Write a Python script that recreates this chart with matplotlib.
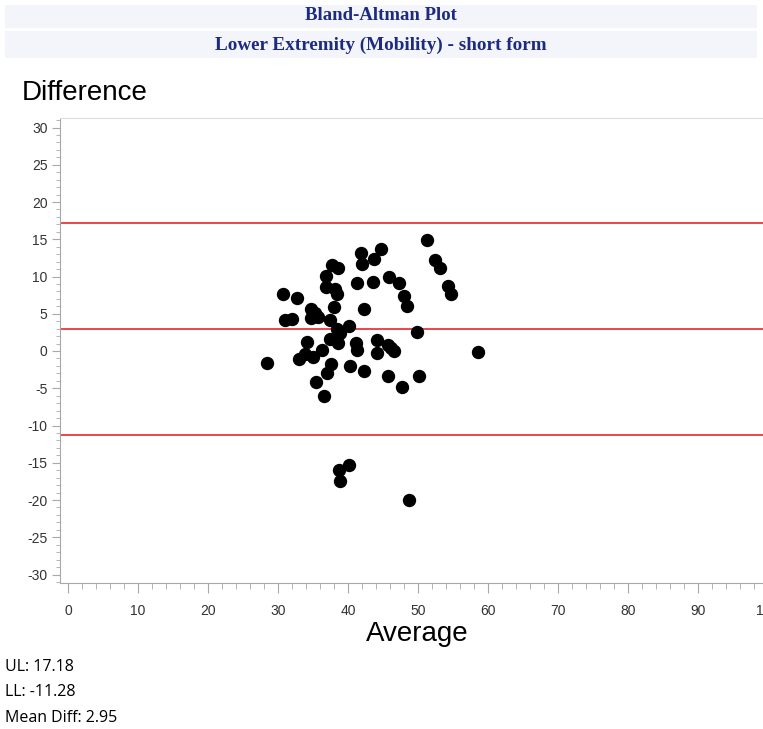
import matplotlib
matplotlib.use("Agg")
import matplotlib.pyplot as plt
from matplotlib.patches import Rectangle
from matplotlib.ticker import MultipleLocator

plt.rcParams["axes.unicode_minus"] = False

# averages and differences
avg = [28.4, 30.7, 31.0, 32.0, 32.7, 33.0, 33.9, 34.1, 34.7, 35.3,
       34.7, 35.7, 35.0, 35.4, 36.3, 36.6, 36.9, 36.9, 37.0, 37.6,
       37.4, 37.4, 37.7, 38.1, 38.0, 38.6, 38.4, 38.4, 38.6, 38.9,
       38.7, 38.9, 40.1, 40.1, 40.3, 41.3, 41.1, 41.3, 41.9, 42.0,
       42.3, 42.3, 43.7, 43.6, 44.1, 44.1, 44.7, 45.7, 45.7, 45.9,
       46.1, 46.6, 47.3, 47.7, 48.0, 48.4, 48.7, 49.9, 50.1, 51.3,
       52.4, 53.1, 54.3, 54.7, 58.6]
diff = [-1.6, 7.7, 4.2, 4.3, 7.1, -1.1, -0.4, 1.2, 5.6, 5.1,
        4.4, 4.6, -0.8, -4.2, 0.1, -6.0, 8.6, 10.1, -3.0, -1.7,
        4.2, 1.6, 11.5, 8.3, 5.9, 11.1, 7.7, 3.0, 1.1, 2.4,
        -16.0, -17.4, 3.4, -15.3, -2.0, 9.1, 1.1, 0.1, 13.2, 11.7,
        5.6, -2.7, 12.3, 9.3, 1.5, -0.3, 13.7, 0.8, -3.4, 9.9,
        0.4, 0.0, 9.1, -4.8, 7.4, 6.0, -20.0, 2.6, -3.4, 14.9,
        12.2, 11.1, 8.7, 7.7, -0.1]

upper_limit = 17.18
lower_limit = -11.28
mean_diff = 2.95

title1 = "Bland-Altman Plot"
title2 = "Lower Extremity (Mobility) - short form"

W, H = 763, 729
fig = plt.figure(figsize=(W / 100, H / 100), dpi=100)

def fx(px):
    return px / W

def fy(py):
    return 1 - py / H

# title bands
navy = "#1c2a80"
band = "#f3f5fa"
fig.patches.append(Rectangle((fx(5), fy(28)), fx(752), 23 / H, transform=fig.transFigure,
                             facecolor=band, edgecolor="none", zorder=0))
fig.patches.append(Rectangle((fx(5), fy(58)), fx(752), 27 / H, transform=fig.transFigure,
                             facecolor=band, edgecolor="none", zorder=0))
fig.text(fx(381), fy(16), title1, ha="center", va="center", color=navy,
         fontsize=13.5, fontweight="bold", family="Liberation Serif")
fig.text(fx(381), fy(45), title2, ha="center", va="center", color=navy,
         fontsize=13.8, fontweight="bold", family="Liberation Serif")

ax = fig.add_axes([fx(60), fy(583), fx(770 - 60), (583 - 118) / H])
ax.set_xlim(-8 / 7, (770 - 68) / 7)
ax.set_ylim(-232 / 7.45, 233 / 7.45)

for y in [upper_limit, mean_diff, lower_limit]:
    ax.axhline(y, color="#e8262b", lw=1.2, zorder=1)

ax.plot(avg, diff, "o", color="black", markersize=8.6, zorder=3)

ax.xaxis.set_major_locator(MultipleLocator(10))
ax.xaxis.set_minor_locator(MultipleLocator(2))
ax.yaxis.set_major_locator(MultipleLocator(5))
ax.yaxis.set_minor_locator(MultipleLocator(1))

axis_grey = "#a8a8a8"
for s in ["left", "bottom"]:
    ax.spines[s].set_color(axis_grey)
for s in ["top", "right"]:
    ax.spines[s].set_color("#dcdcdc")
ax.tick_params(which="both", colors=axis_grey, labelcolor="#333333",
               labelsize=10, direction="out")
ax.tick_params(axis="x", which="major", length=7, pad=8)
ax.tick_params(axis="x", which="minor", length=4)
ax.tick_params(axis="y", which="major", length=6, pad=3)
ax.tick_params(axis="y", which="minor", length=3)
for lab in ax.get_xticklabels() + ax.get_yticklabels():
    lab.set_family("Liberation Sans")

fig.text(fx(22), fy(93), "Difference", ha="left", va="center",
         fontsize=20, family="Liberation Sans", color="black")
fig.text(fx(417), fy(634), "Average", ha="center", va="center",
         fontsize=20, family="Liberation Sans", color="black")

foot = ["UL: %.2f" % upper_limit, "LL: %.2f" % lower_limit, "Mean Diff: %.2f" % mean_diff]
for i, t in enumerate(foot):
    fig.text(fx(5), fy(667 + 25.5 * i), t, ha="left", va="center",
             fontsize=11.5, family="Open Sans", color="black")

fig.savefig("out.png", dpi=100)
